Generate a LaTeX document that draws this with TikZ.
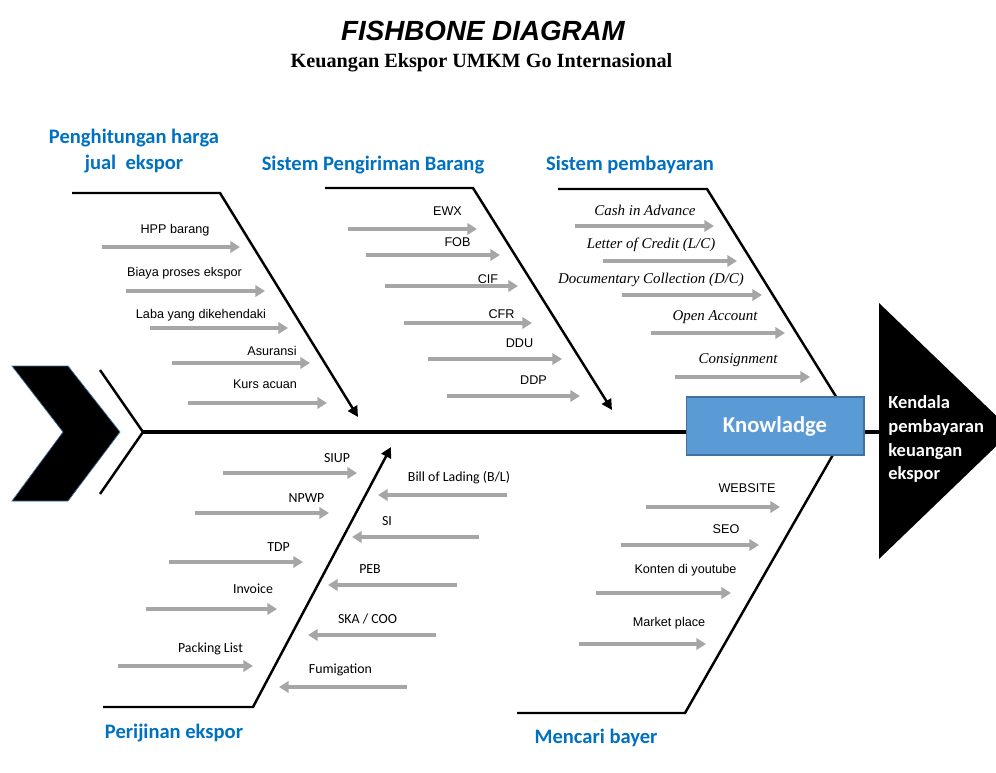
\documentclass[tikz,border=0pt]{standalone}
\usepackage{fontspec}
\setmainfont{Liberation Sans}
\newfontfamily\hurufcalibri{Carlito}
\newfontfamily\hurufserif{Liberation Serif}
\usepackage{xcolor}
\usepackage{tikz}
\usetikzlibrary{arrows.meta, positioning, calc}
\definecolor{birujudul}{HTML}{0070C0}
\definecolor{biruisi}{HTML}{5B9BD5}
\definecolor{birugaris}{HTML}{41719C}
\definecolor{abu}{HTML}{A6A6A6}
\tikzset{
  tulang/.style={line width=1.4pt, color=black},
  tulangpanah/.style={tulang, -{Triangle[length=6pt, width=6pt]}},
  tulangutama/.style={line width=2.8pt, color=black},
  duri/.style={line width=2pt, color=abu, -{Triangle[length=5.5pt, width=6.5pt]}},
  ket/.style={font=\fontsize{7.2}{8.6}\selectfont, inner sep=0pt, anchor=base},
  ketcal/.style={ket, font=\hurufcalibri\fontsize{7.9}{9.5}\selectfont},
  ketmiring/.style={ket, font=\hurufserif\itshape\fontsize{8.5}{10}\selectfont},
  kategori/.style={font=\hurufcalibri\bfseries\fontsize{11.7}{14.7}\selectfont,
    text=birujudul, inner sep=0pt, anchor=base, align=center},
  kotak/.style={rectangle, draw=birugaris, fill=biruisi, line width=0.6pt,
    minimum width=3.56cm, minimum height=1.16cm, text=white,
    font=\hurufcalibri\bfseries\fontsize{12.9}{15}\selectfont},
  akibat/.style={text=white, align=left, inner sep=0pt, anchor=north west,
    font=\hurufcalibri\bfseries\fontsize{10.5}{13.6}\selectfont}
}

\begin{document}
\begin{tikzpicture}[x=0.02cm, y=-0.02cm]
    \useasboundingbox (0,0) rectangle (996,773);
    \clip (0,0) rectangle (996,773);

    % judul
    \node[font=\bfseries\itshape\fontsize{15.8}{19}\selectfont, anchor=base] (judul) at (483,41) {FISHBONE DIAGRAM};
    \node[font=\hurufserif\bfseries\fontsize{11.5}{14}\selectfont, anchor=base] (subjudul) at (481.5,68) {Keuangan Ekspor UMKM Go Internasional};

    % ekor dan tulang utama
    \fill[draw=birugaris, line width=0.4pt] (12,366) -- (68,366) -- (120,432) -- (68,501) -- (12,501) -- (63,432) -- cycle;
    \coordinate (ekor) at (143,432);
    \coordinate (pangkal) at (879,432);
    \draw[tulang] (100,370) -- (ekor) -- (100,494);
    \draw[tulangutama] (ekor) -- (pangkal);

    % tulang kategori
    \coordinate (a1) at (72,193);  \coordinate (a2) at (220,193); \coordinate (a3) at (358,417);
    \coordinate (b1) at (325,188); \coordinate (b2) at (473,188); \coordinate (b3) at (612,410);
    \coordinate (c1) at (558,189); \coordinate (c2) at (707,189); \coordinate (c3) at (858,432);
    \coordinate (d1) at (103,707); \coordinate (d2) at (253,707); \coordinate (d3) at (391,447);
    \coordinate (e1) at (517,713); \coordinate (e2) at (685,713); \coordinate (e3) at (846,432);
    \draw[tulangpanah] (a1) -- (a2) -- (a3);
    \draw[tulangpanah] (b1) -- (b2) -- (b3);
    \draw[tulang] (c1) -- (c2) -- (c3);
    \draw[tulangpanah] (d1) -- (d2) -- (d3);
    \draw[tulang] (e1) -- (e2) -- (e3);

    \node[kategori, anchor=north] (hitung) at (134,129) {Penghitungan harga\\jual~ ekspor};
    \node[kategori] (kirim) at (373,171) {Sistem Pengiriman Barang};
    \node[kategori] (bayar) at (630,171) {Sistem pembayaran};
    \node[kategori] (ijin) at (174,738) {Perijinan ekspor};
    \node[kategori] (pembeli) at (596,743) {Mencari bayer};

    % duri
    \foreach \n/\xa/\xb/\y in {hpp/102/240/247, biaya/126/265/291, laba/150/288/328, asuransi/172/310/363, kurs/188/327/403,
      ewx/348/477/229, fob/366/500/255, cif/385/518/286, cfr/404/532/323, ddu/428/562/359, ddp/447/580/396,
      cia/575/714/226, lc/603/737/261, dc/622/762/295, oa/651/785/333, kons/675/810/377,
      siup/223/357/473, npwp/195/329/513, tdp/169/303/562, inv/146/277/609, pl/118/253/666,
      bl/507/378/495, si/479/352/537, peb/457/328/585, ska/436/308/635, fum/407/279/687,
      web/646/780/507, seo/621/759/545, kon/596/731/593, mp/579/706/644}
    {
      \coordinate (\n-a) at (\xa,\y);
      \coordinate (\n-b) at (\xb,\y);
      \draw[duri] (\n-a) -- (\n-b);
    }

    \node[ket] (hpp) at (175,234) {HPP barang};
    \node[ket] (biaya) at (184.5,276) {Biaya proses ekspor};
    \node[ket] (laba) at (201,318) {Laba yang dikehendaki};
    \node[ket] (asuransi) at (272,355) {Asuransi};
    \node[ket] (kurs) at (265,388) {Kurs acuan};

    \node[ket] (ewx) at (447.5,216) {EWX};
    \node[ket] (fob) at (457.5,247) {FOB};
    \node[ket] (cif) at (488,283) {CIF};
    \node[ket] (cfr) at (501.5,318) {CFR};
    \node[ket] (ddu) at (519.5,347) {DDU};
    \node[ket] (ddp) at (533.5,384) {DDP};

    \node[ketmiring] (cia) at (645,216) {Cash in Advance};
    \node[ketmiring] (lc) at (651,249) {Letter of Credit (L/C)};
    \node[ketmiring] (dc) at (651,283) {Documentary Collection (D/C)};
    \node[ketmiring] (oa) at (715,320) {Open Account};
    \node[ketmiring] (kons) at (738,363) {Consignment};

    \node[ketcal] (siup) at (337,462) {SIUP};
    \node[ketcal] (npwp) at (306.5,502) {NPWP};
    \node[ketcal] (tdp) at (278.5,551) {TDP};
    \node[ketcal] (inv) at (253,593) {Invoice};
    \node[ketcal] (pl) at (210.5,652) {Packing List};

    \node[ketcal] (bl) at (459,481) {Bill of Lading (B/L)};
    \node[ketcal] (si) at (387,525) {SI};
    \node[ketcal] (peb) at (370,573) {PEB};
    \node[ketcal] (ska) at (367.5,623) {SKA / COO};
    \node[ketcal] (fum) at (340.5,673) {Fumigation};

    \node[ket] (web) at (747,492) {WEBSITE};
    \node[ket] (seo) at (726,533) {SEO};
    \node[ket] (kon) at (685.5,573) {Konten di youtube};
    \node[ket] (mp) at (669,626) {Market place};

    % kotak dan kepala ikan
    \node[kotak] (ilmu) at (775,426) {Knowladge};
    \coordinate (k1) at (879,303); \coordinate (k2) at (1012,431); \coordinate (k3) at (879,559);
    \fill (k1) -- (k2) -- (k3) -- cycle;
    \node[akibat] (kendala) at (888,395) {Kendala\\pembayaran\\keuangan\\ekspor};
  \end{tikzpicture}
\end{document}
